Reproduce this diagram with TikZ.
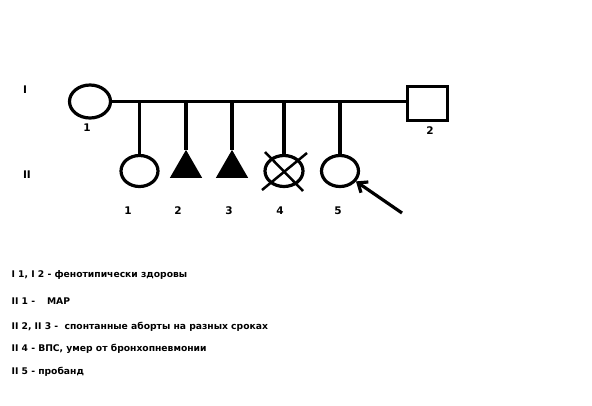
\documentclass[tikz,border=0pt]{standalone}
\usepackage{fontspec}
\setmainfont{Carlito}
\newfontfamily\labelfont{DejaVu Sans}
\usetikzlibrary{shapes, arrows.meta, positioning}

\begin{document}
\begin{tikzpicture}[x=1pt, y=-1pt, inner sep=0pt, line width=3.2pt,
	female/.style={draw, ellipse, minimum width=37pt, minimum height=31pt},
	male/.style={draw, rectangle, minimum width=40pt, minimum height=34pt},
	abort/.style={draw, fill, regular polygon, regular polygon sides=3, minimum size=31pt},
	num/.style={font=\labelfont\bfseries\fontsize{10.5}{12}\selectfont},
	note/.style={anchor=west, font=\labelfont\bfseries\fontsize{9.2}{11}\selectfont}]
	\useasboundingbox[fill=white] (0,0) rectangle (592,405);

	\node[female, minimum width=41pt, minimum height=33pt] (I1) at (90,101.5) {};
	\node[male] (I2) at (427.5,103.5) {};
	\node[female] (II1) at (139.5,171) {};
	\node[abort] (II2) at (186,168.6) {};
	\node[abort] (II3) at (232,168.6) {};
	\node[female, minimum width=38pt] (II4) at (284,171) {};
	\node[female] (II5) at (340,171) {};

	\draw (I1.east) -- (I2.west |- I1.east);
	\draw (II1.north |- I1) -- (II1.north);
	\draw (II2.north |- I1) -- (II2.north);
	\draw (II3.north |- I1) -- (II3.north);
	\draw (II4.north |- I1) -- (II4.north);
	\draw (II5.north |- I1) -- (II5.north);

	\draw[line width=2.5pt] (II4) ++(-22,19) -- ++(45,-37);
	\draw[line width=2.5pt] (II4) ++(-19,-19) -- ++(38,39);

	\coordinate (P) at (402,213);
	\draw[-{Straight Barb[length=8pt, width=13pt]}] (P) -- (II5.-33);

	\node[num] (g1) at (25,90) {I};
	\node[num] (g2) at (27,175) {II};
	\node[num] (n1) at (87,128) {1};
	\node[num] (n2) at (430,131) {2};
	\node[num] (m1) at (128,211) {1};
	\node[num] (m2) at (178,211) {2};
	\node[num] (m3) at (229,211) {3};
	\node[num] (m4) at (280,211) {4};
	\node[num] (m5) at (338,211) {5};

	\node[note] (t1) at (10,275) {I 1, I 2 - фенотипически здоровы};
	\node[note] (t2) at (10,301) {II 1 -\hspace{12pt}МАР};
	\node[note] (t3) at (10,327) {II 2, II 3 - \ спонтанные аборты на разных сроках};
	\node[note] (t4) at (10,349) {II 4 - ВПС, умер от бронхопневмонии};
	\node[note] (t5) at (10,372) {II 5 - пробанд};
\end{tikzpicture}
\end{document}
